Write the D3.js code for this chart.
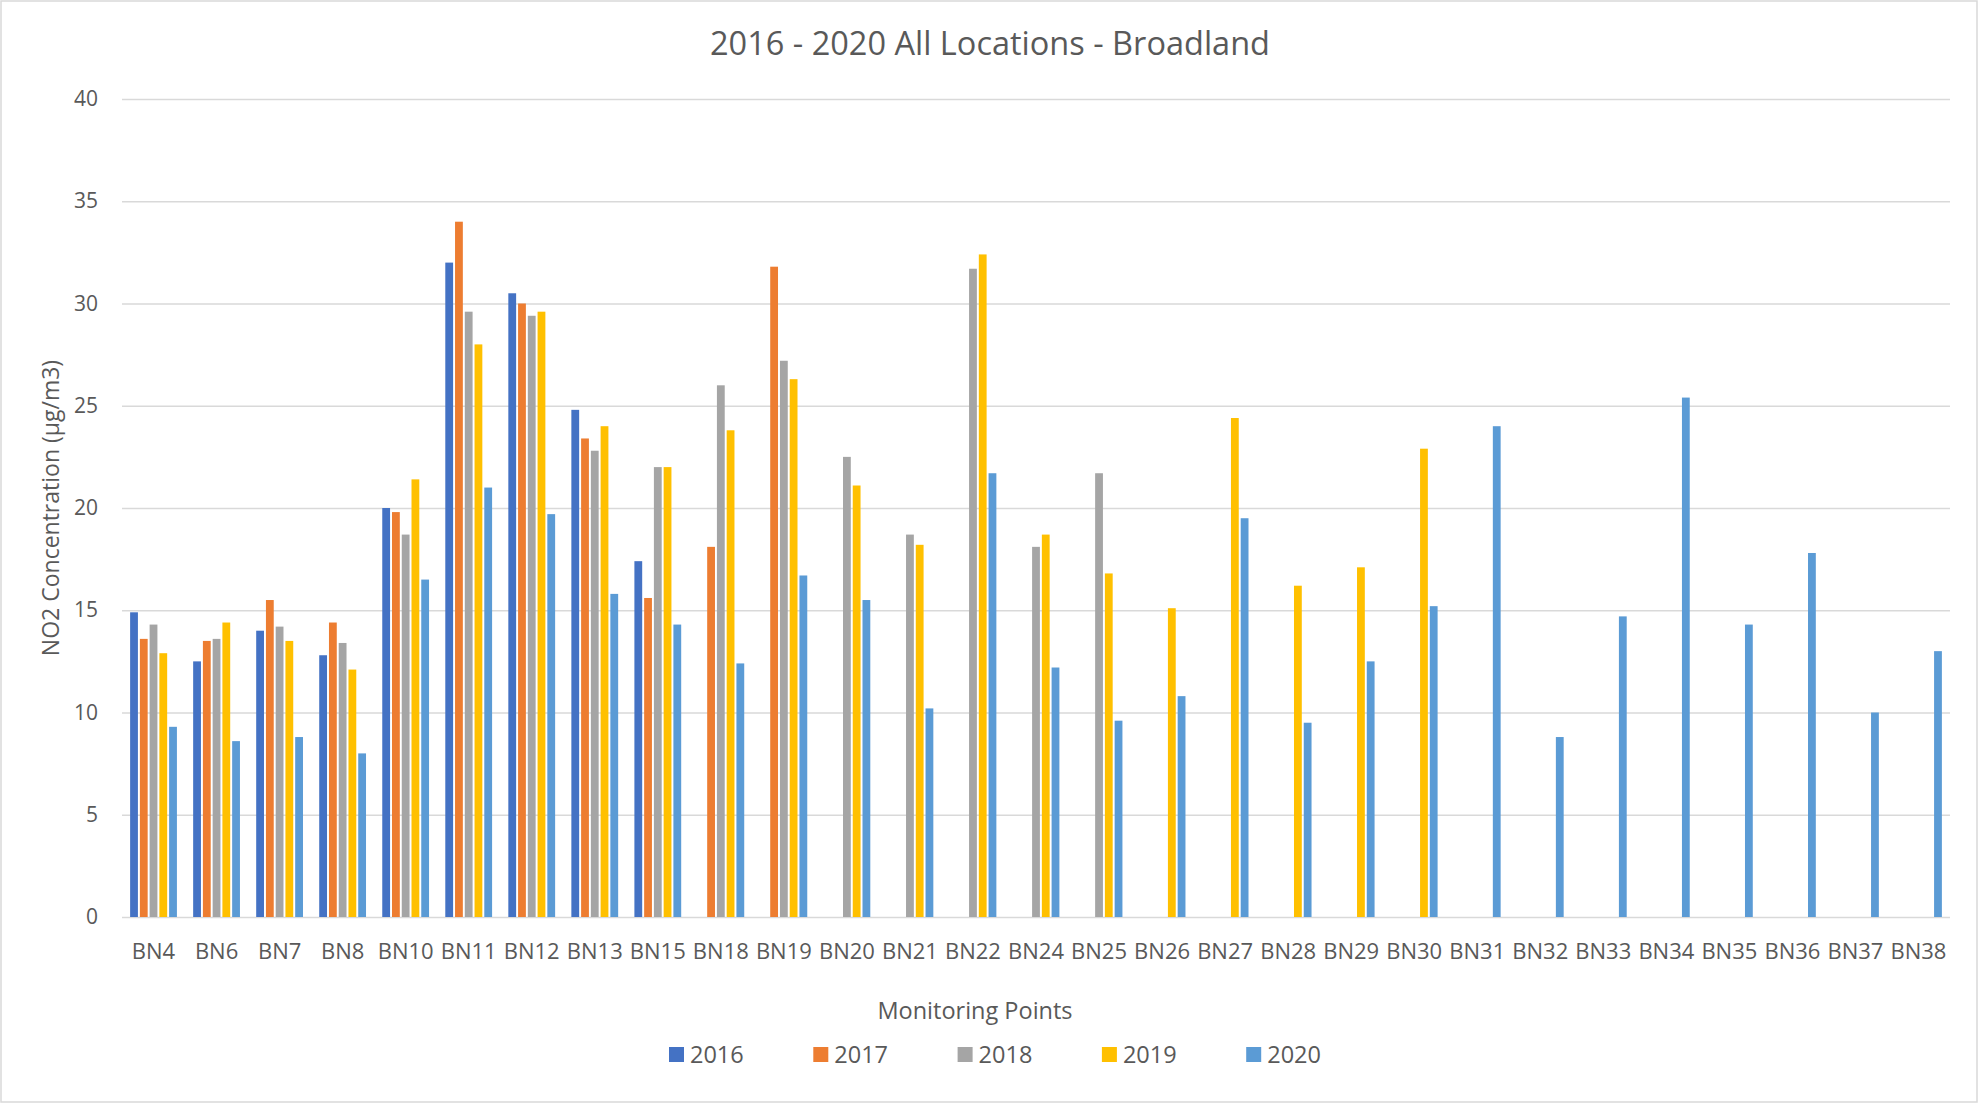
<!DOCTYPE html>
<html>
<head>
<meta charset="utf-8">
<script src="https://cdn.jsdelivr.net/npm/d3@7"></script>
<style>
  body { margin: 0; background: #fff; }
  text { font-family: "Open Sans", sans-serif; fill: #595959; }
</style>
</head>
<body>
<script>
// data
var categories = ["BN4","BN6","BN7","BN8","BN10","BN11","BN12","BN13","BN15","BN18","BN19","BN20","BN21","BN22","BN24","BN25","BN26","BN27","BN28","BN29","BN30","BN31","BN32","BN33","BN34","BN35","BN36","BN37","BN38"];
var years = ["2016","2017","2018","2019","2020"];
var yearColors = ["#4472C4","#ED7D31","#A5A5A5","#FFC000","#5B9BD5"];
var v2016 = [14.9,12.5,14.0,12.8,20.0,32.0,30.5,24.8,17.4,null,null,null,null,null,null,null,null,null,null,null,null,null,null,null,null,null,null,null,null];
var v2017 = [13.6,13.5,15.5,14.4,19.8,34.0,30.0,23.4,15.6,18.1,31.8,null,null,null,null,null,null,null,null,null,null,null,null,null,null,null,null,null,null];
var v2018 = [14.3,13.6,14.2,13.4,18.7,29.6,29.4,22.8,22.0,26.0,27.2,22.5,18.7,31.7,18.1,21.7,null,null,null,null,null,null,null,null,null,null,null,null,null];
var v2019 = [12.9,14.4,13.5,12.1,21.4,28.0,29.6,24.0,22.0,23.8,26.3,21.1,18.2,32.4,18.7,16.8,15.1,24.4,16.2,17.1,22.9,null,null,null,null,null,null,null,null];
var v2020 = [9.3,8.6,8.8,8.0,16.5,21.0,19.7,15.8,14.3,12.4,16.7,15.5,10.2,21.7,12.2,9.6,10.8,19.5,9.5,12.5,15.2,24.0,8.8,14.7,25.4,14.3,17.8,10.0,13.0];
var yTicks = [0,5,10,15,20,25,30,35,40];

var series = [v2016, v2017, v2018, v2019, v2020];

var width = 1979, height = 1104;
var margin = {top: 99, left: 122, right: 29, bottom: 187};
var innerW = width - margin.left - margin.right;
var innerH = height - margin.top - margin.bottom;

var svg = d3.select("body").append("svg")
	.attr("width", width)
	.attr("height", height);

// chart frame
svg.append("rect")
	.attr("x", 1).attr("y", 1)
	.attr("width", width - 3).attr("height", height - 3)
	.attr("fill", "#fff")
	.attr("stroke", "#d9d9d9")
	.attr("stroke-width", 1.5);

var g = svg.append("g").attr("transform", "translate(" + margin.left + "," + margin.top + ")");

var x = d3.scaleBand().domain(categories).range([0, innerW]).paddingInner(0.2266).paddingOuter(0.1133);
var xs = d3.scaleBand().domain(years).range([0, x.bandwidth()]).paddingInner(0.2).paddingOuter(0.1);
var y = d3.scaleLinear().domain([0, 40]).range([innerH, 0]);

// gridlines + y tick labels
var yAxis = g.append("g")
	.call(d3.axisLeft(y).tickValues(yTicks).tickSize(-innerW).tickPadding(24));
yAxis.select(".domain").remove();
yAxis.selectAll(".tick line").attr("stroke", "#d9d9d9").attr("stroke-width", 1.5);
yAxis.selectAll(".tick text")
	.attr("fill", "#595959")
	.style("font-family", "'Open Sans', sans-serif")
	.style("font-size", "21px");

// bars
var groups = g.selectAll(".grp")
	.data(categories)
	.enter().append("g")
	.attr("class", "grp")
	.attr("transform", d => "translate(" + x(d) + ",0)");

groups.selectAll("rect")
	.data((c, i) => years.map((yr, k) => ({year: yr, k: k, value: series[k][i]})).filter(d => d.value != null))
	.enter().append("rect")
	.attr("x", d => xs(d.year))
	.attr("width", xs.bandwidth())
	.attr("y", d => y(d.value))
	.attr("height", d => innerH - y(d.value))
	.attr("fill", d => yearColors[d.k]);

// category labels
var xAxis = g.append("g")
	.attr("transform", "translate(0," + innerH + ")")
	.call(d3.axisBottom(x).tickSize(0).tickPadding(26));
xAxis.select(".domain").remove();
xAxis.selectAll(".tick text")
	.attr("fill", "#595959")
	.style("font-family", "'Open Sans', sans-serif")
	.style("font-size", "22px");

// titles
svg.append("text")
	.attr("x", 990).attr("y", 55)
	.attr("text-anchor", "middle")
	.style("font-size", "32.5px")
	.text("2016 - 2020 All Locations - Broadland");

svg.append("text")
	.attr("x", 975).attr("y", 1019)
	.attr("text-anchor", "middle")
	.style("font-size", "23.5px")
	.text("Monitoring Points");

svg.append("text")
	.attr("transform", "translate(59,508) rotate(-90)")
	.attr("text-anchor", "middle")
	.style("font-size", "23px")
	.text("NO2 Concentration (µg/m3)");

// legend
var legend = svg.append("g").selectAll("g")
	.data(years)
	.enter().append("g")
	.attr("transform", (d, i) => "translate(" + (669 + i * 144.3) + ",1047)");
legend.append("rect")
	.attr("width", 15).attr("height", 15)
	.attr("fill", (d, i) => yearColors[i]);
legend.append("text")
	.attr("x", 21).attr("y", 15.5)
	.style("font-size", "23.5px")
	.text(d => d);
</script>
</body>
</html>
